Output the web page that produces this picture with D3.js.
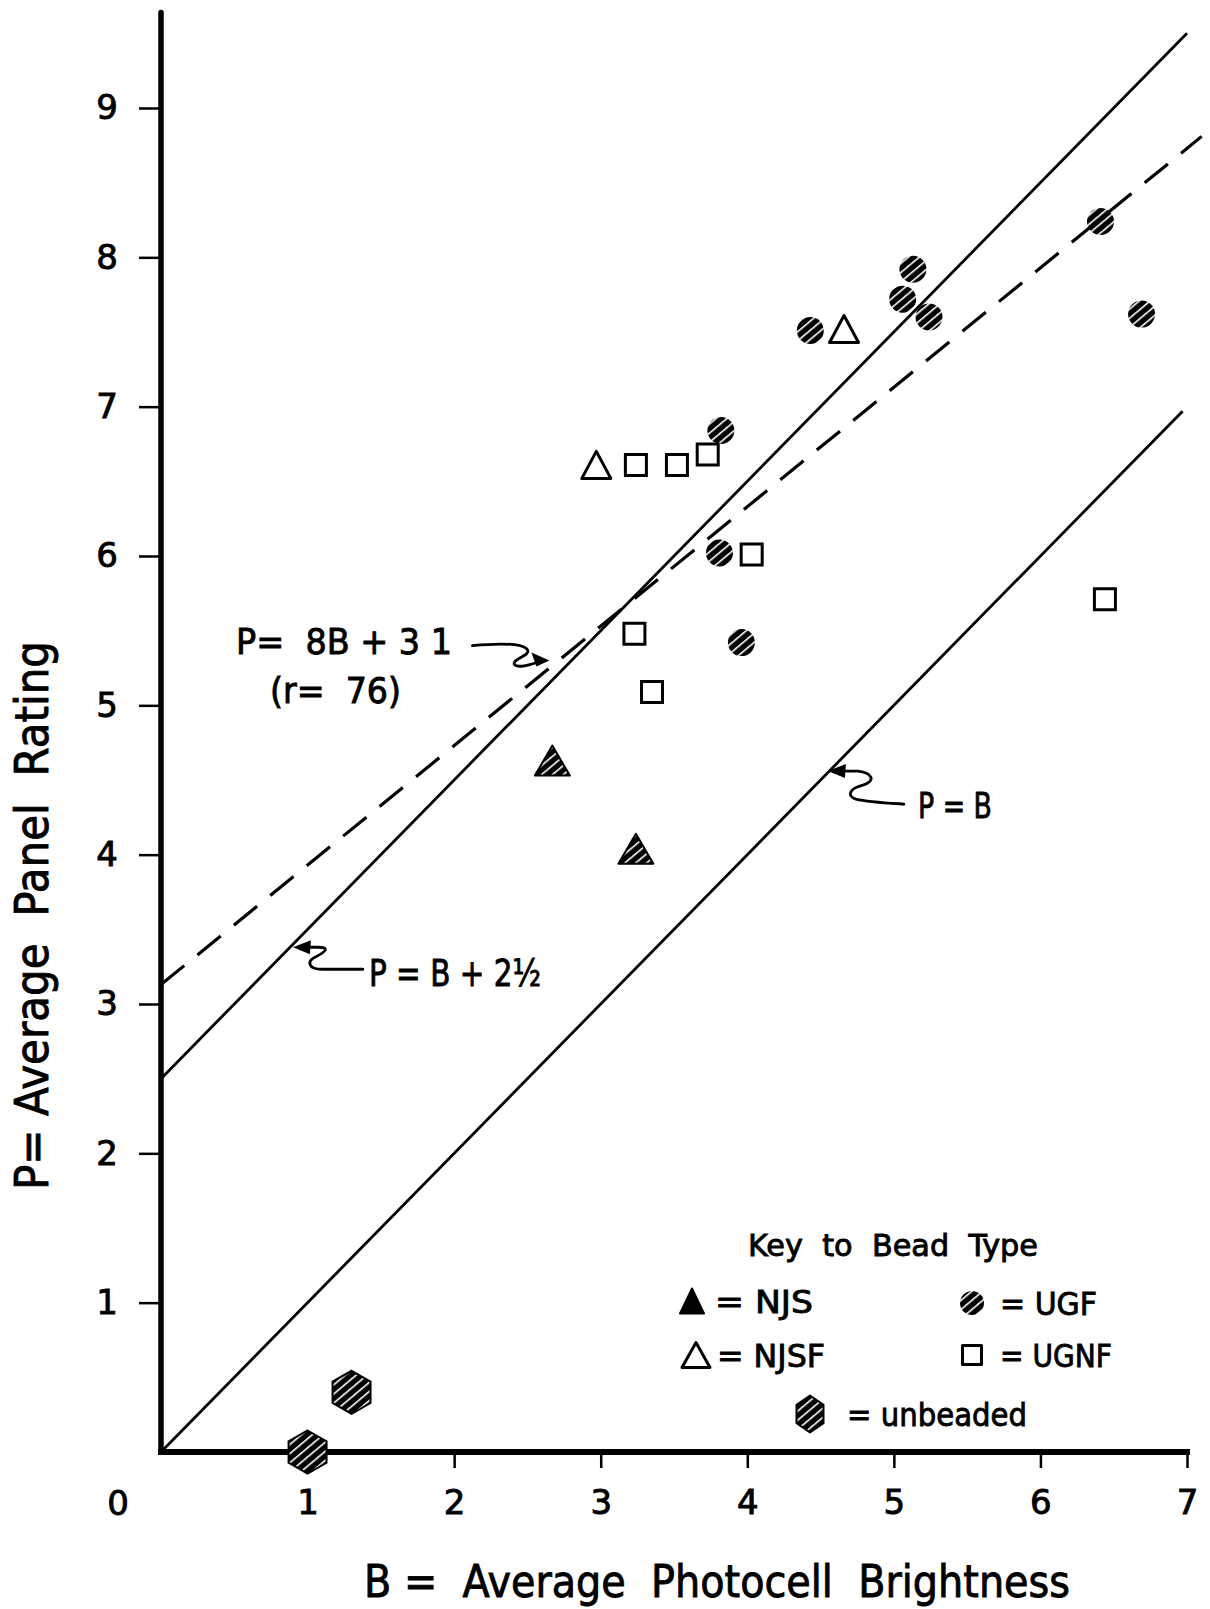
<!DOCTYPE html>
<html>
<head>
<meta charset="utf-8">
<script src="https://cdn.jsdelivr.net/npm/d3@7"></script>
<style>
  body { margin: 0; background: #fff; }
  svg text { font-family: "DejaVu Sans", "Liberation Sans", sans-serif; fill: #000; white-space: pre;
             stroke: #000; stroke-width: 0.9px; }
</style>
</head>
<body>
<div id="chart"></div>
<script>
// tick values
const xTicks = [1, 2, 3, 4, 5, 6, 7];
const yTicks = [1, 2, 3, 4, 5, 6, 7, 8, 9];

// [B, P], per bead type
const ugf = [[4.43, 7.51], [5.06, 7.72], [5.13, 7.92], [5.24, 7.60], [6.41, 8.24],
             [6.69, 7.62], [3.82, 6.84], [3.81, 6.02], [3.96, 5.42]];
const njsf = [[4.66, 7.52], [2.97, 6.61]];
const ugnf = [[3.24, 6.61], [3.52, 6.61], [3.73, 6.68], [4.03, 6.01], [3.23, 5.48],
              [3.35, 5.09], [6.44, 5.71]];
const njs = [[2.67, 4.63], [3.24, 4.04]];
const unbeaded = [[1.30, 0.40], [1.00, 0.00]];

// reference / fitted lines: P = slope*B + icpt, drawn from B=0 to bEnd
const fitLines = [
  { slope: 1,   icpt: 0,    bEnd: 6.97, dashed: false },
  { slope: 1,   icpt: 2.5,  bEnd: 7.0,  dashed: false },
  { slope: 0.8, icpt: 3.13, bEnd: 7.1,  dashed: true }
];

const width = 1210, height = 1609;

const x = d3.scaleLinear().domain([0, 7]).range([161, 1187]);
const y = d3.scaleLinear().domain([0, 9]).range([1452, 108]);

const svg = d3.select('#chart').append('svg')
  .attr('width', width)
  .attr('height', height);

// hatch fill (white stripes on black)
const defs = svg.append('defs');
const pat = defs.append('pattern')
  .attr('id', 'hatch')
  .attr('patternUnits', 'userSpaceOnUse')
  .attr('width', 7).attr('height', 7)
  .attr('patternTransform', 'rotate(-40)');
pat.append('rect').attr('width', 7).attr('height', 7).attr('fill', '#000');
pat.append('rect').attr('y', 3).attr('width', 7).attr('height', 1.6).attr('fill', '#fff');

// shape paths, centred on the bounding box
function triPath(w, h) {
  return `M0,${-h/2}L${w/2},${h/2}L${-w/2},${h/2}Z`;
}
function hexPath(w, h) {
  return `M0,${-h/2}L${w/2},${-h/4}L${w/2},${h/4}L0,${h/2}L${-w/2},${h/4}L${-w/2},${-h/4}Z`;
}
function sqPath(s) {
  return `M${-s/2},${-s/2}h${s}v${s}h${-s}Z`;
}

// lines
const lineGen = d3.line().x(d => x(d[0])).y(d => y(d[1]));
svg.append('g').selectAll('path')
  .data(fitLines)
  .join('path')
  .attr('d', d => lineGen([[0, d.icpt], [d.bEnd, d.slope * d.bEnd + d.icpt]]))
  .attr('fill', 'none')
  .attr('stroke', '#000')
  .attr('stroke-width', d => d.dashed ? 3.2 : 2.8)
  .attr('stroke-dasharray', d => d.dashed ? '30,17' : null);

// axes
const yAxis = svg.append('g')
  .attr('transform', `translate(${x(0)},0)`)
  .call(d3.axisLeft(y).tickValues(yTicks).tickSize(22).tickPadding(21).tickFormat(d3.format('d')));
const xAxis = svg.append('g')
  .attr('transform', `translate(0,${y(0)})`)
  .call(d3.axisBottom(x).tickValues(xTicks).tickSize(16).tickPadding(22).tickFormat(d3.format('d')));

[xAxis, yAxis].forEach(g => {
  g.select('.domain').remove();
  g.selectAll('.tick line').attr('stroke', '#000').attr('stroke-width', 2.5);
  g.selectAll('.tick text').attr('font-size', 34).attr('font-family', null);
});
xAxis.selectAll('.tick text').attr('dy', '0.72em');

// heavy axis lines
svg.append('line')
  .attr('x1', x(0)).attr('x2', x(0))
  .attr('y1', y(0)).attr('y2', y(9.64))
  .attr('stroke', '#000').attr('stroke-width', 5.5).attr('stroke-linecap', 'round');
svg.append('line')
  .attr('x1', x(-0.02)).attr('x2', x(7.02))
  .attr('y1', y(0)).attr('y2', y(0))
  .attr('stroke', '#000').attr('stroke-width', 6);

svg.append('text')
  .attr('x', x(0) - 43).attr('y', y(0) + 63)
  .attr('text-anchor', 'middle')
  .attr('font-size', 34)
  .text('0');

// markers
const marks = svg.append('g');
marks.selectAll('circle.ugf')
  .data(ugf).join('circle')
  .attr('class', 'ugf')
  .attr('cx', d => x(d[0])).attr('cy', d => y(d[1]))
  .attr('r', 13.5)
  .attr('fill', 'url(#hatch)');

marks.selectAll('path.njsf')
  .data(njsf).join('path')
  .attr('class', 'njsf')
  .attr('transform', d => `translate(${x(d[0])},${y(d[1])})`)
  .attr('d', triPath(29, 27))
  .attr('fill', '#fff').attr('stroke', '#000').attr('stroke-width', 3)
  .attr('stroke-linejoin', 'round');

marks.selectAll('path.ugnf')
  .data(ugnf).join('path')
  .attr('class', 'ugnf')
  .attr('transform', d => `translate(${x(d[0])},${y(d[1])})`)
  .attr('d', sqPath(21))
  .attr('fill', '#fff').attr('stroke', '#000').attr('stroke-width', 3);

marks.selectAll('path.njs')
  .data(njs).join('path')
  .attr('class', 'njs')
  .attr('transform', d => `translate(${x(d[0])},${y(d[1])})`)
  .attr('d', triPath(35, 30))
  .attr('fill', 'url(#hatch)').attr('stroke', '#000').attr('stroke-width', 2)
  .attr('stroke-linejoin', 'round');

marks.selectAll('path.unbeaded')
  .data(unbeaded).join('path')
  .attr('class', 'unbeaded')
  .attr('transform', d => `translate(${x(d[0])},${y(d[1])})`)
  .attr('d', hexPath(38, 43))
  .attr('fill', 'url(#hatch)').attr('stroke', '#000').attr('stroke-width', 2);

// annotations: squiggly arrows, tip placed on a line via the scales
function arrow(b, p, path, headBase) {
  const g = svg.append('g').attr('transform', `translate(${x(b)},${y(p)})`);
  g.append('path').attr('d', path)
    .attr('fill', 'none').attr('stroke', '#000').attr('stroke-width', 2.8)
    .attr('stroke-linecap', 'round');
  g.append('path').attr('d', `M0,0L${headBase[0]}L${headBase[1]}Z`).attr('fill', '#000');
}
arrow(2.65, 5.3, 'M-77,-15C-55,-17 -30,-18 -23,-12C-16,-5 -38,-2 -35,4C-32,8 -22,5 -12,2', ['-18,-8', '-13,6']);
arrow(0.9, 3.38, 'M70,22L29,22C15,22 14,14 22,10C32,5 38,0 25,0L12,0', ['18,-7', '17,7']);
arrow(4.55, 4.56, 'M76,33C60,32 40,31 28,28C18,25 22,17 35,14C48,10 45,2 30,0L14,0', ['18,-7', '17,7']);

svg.append('text')
  .attr('x', 236).attr('y', 654)
  .attr('font-size', 35)
  .attr('textLength', 216).attr('lengthAdjust', 'spacingAndGlyphs')
  .text('P=  8B + 3 1');
svg.append('text')
  .attr('x', 270).attr('y', 703)
  .attr('font-size', 35)
  .attr('textLength', 131).attr('lengthAdjust', 'spacingAndGlyphs')
  .text('(r=  76)');

svg.append('text')
  .attr('x', 369).attr('y', 986)
  .attr('font-size', 37)
  .attr('textLength', 172).attr('lengthAdjust', 'spacingAndGlyphs')
  .text('P = B + 2½');

svg.append('text')
  .attr('x', 918).attr('y', 818)
  .attr('font-size', 35)
  .attr('textLength', 74).attr('lengthAdjust', 'spacingAndGlyphs')
  .text('P = B');

// axis titles
svg.append('text')
  .attr('x', 364).attr('y', 1597)
  .attr('font-size', 44)
  .attr('textLength', 706).attr('lengthAdjust', 'spacingAndGlyphs')
  .text('B =  Average  Photocell  Brightness');
svg.append('text')
  .attr('transform', 'translate(48,1190) rotate(-90)')
  .attr('font-size', 46)
  .attr('textLength', 549).attr('lengthAdjust', 'spacingAndGlyphs')
  .text('P= Average  Panel  Rating');

// legend
const legendItems = [
  { label: '= NJS',      d: triPath(24, 25), fill: '#000',        sx: 692, tx: 715, cy: 1301, textLen: 98 },
  { label: '= UGF',      d: null,            fill: 'url(#hatch)', sx: 972, tx: 1000, cy: 1303, textLen: 97 },
  { label: '= NJSF',     d: triPath(28, 25), fill: '#fff',        sx: 696, tx: 717, cy: 1355, textLen: 108 },
  { label: '= UGNF',     d: sqPath(19),      fill: '#fff',        sx: 972, tx: 1000, cy: 1355, textLen: 112 },
  { label: '= unbeaded', d: hexPath(27, 37), fill: 'url(#hatch)', sx: 810, tx: 847, cy: 1414, textLen: 180 }
];
svg.append('text')
  .attr('x', 748).attr('y', 1256)
  .attr('font-size', 30)
  .attr('textLength', 290).attr('lengthAdjust', 'spacingAndGlyphs')
  .text('Key  to  Bead  Type');

const leg = svg.append('g').selectAll('g')
  .data(legendItems).join('g');
leg.each(function(d) {
  const g = d3.select(this);
  if (d.d) {
    g.append('path')
      .attr('transform', `translate(${d.sx},${d.cy})`)
      .attr('d', d.d)
      .attr('fill', d.fill)
      .attr('stroke', '#000').attr('stroke-width', d.fill === '#fff' ? 3 : 2)
      .attr('stroke-linejoin', 'round');
  } else {
    g.append('circle')
      .attr('cx', d.sx).attr('cy', d.cy).attr('r', 12)
      .attr('fill', d.fill);
  }
  g.append('text')
    .attr('x', d.tx).attr('y', d.cy + 12)
    .attr('font-size', 32)
    .attr('textLength', d.textLen).attr('lengthAdjust', 'spacingAndGlyphs')
    .text(d.label);
});
</script>
</body>
</html>
